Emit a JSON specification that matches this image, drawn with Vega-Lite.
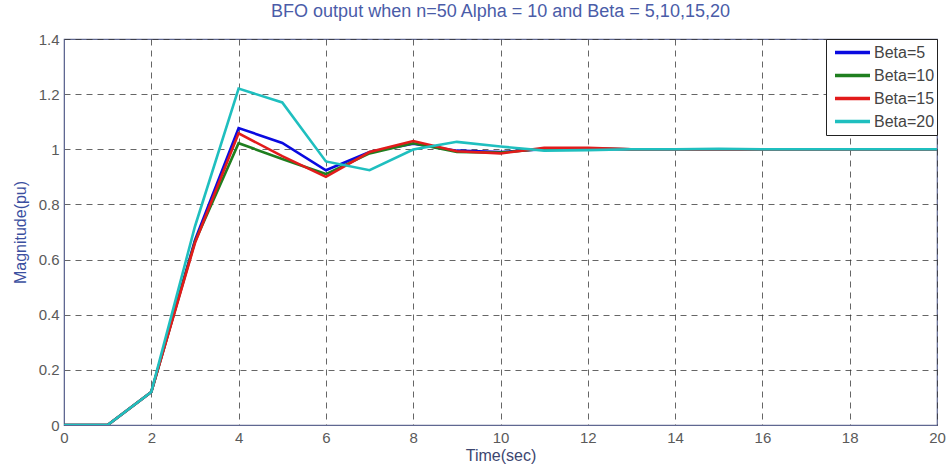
{
  "$schema": "https://vega.github.io/schema/vega-lite/v6.json",
  "width": 873,
  "height": 386,
  "autosize": "none",
  "padding": {"left": 64, "top": 39, "right": 13, "bottom": 43},
  "background": "white",
  "config": {
    "font": "Liberation Sans",
    "view": {"stroke": "#5f6791", "strokeWidth": 1.2}
  },
  "title": {
    "text": "BFO output when n=50 Alpha = 10 and Beta = 5,10,15,20",
    "fontSize": 18,
    "fontWeight": "normal",
    "color": "#4a5ca8",
    "offset": 11,
    "anchor": "middle"
  },
  "data": {
    "values": [
      {"t": 0, "beta": "Beta=5", "v": 0}, {"t": 1, "beta": "Beta=5", "v": 0}, {"t": 2, "beta": "Beta=5", "v": 0.12}, {"t": 3, "beta": "Beta=5", "v": 0.67}, {"t": 4, "beta": "Beta=5", "v": 1.077}, {"t": 5, "beta": "Beta=5", "v": 1.023}, {"t": 6, "beta": "Beta=5", "v": 0.924}, {"t": 7, "beta": "Beta=5", "v": 0.99}, {"t": 8, "beta": "Beta=5", "v": 1.02}, {"t": 9, "beta": "Beta=5", "v": 0.995}, {"t": 10, "beta": "Beta=5", "v": 0.99}, {"t": 11, "beta": "Beta=5", "v": 1.0}, {"t": 12, "beta": "Beta=5", "v": 1.002}, {"t": 13, "beta": "Beta=5", "v": 1.0}, {"t": 14, "beta": "Beta=5", "v": 1.0}, {"t": 15, "beta": "Beta=5", "v": 1.0}, {"t": 16, "beta": "Beta=5", "v": 1.0}, {"t": 17, "beta": "Beta=5", "v": 1.0}, {"t": 18, "beta": "Beta=5", "v": 1.0}, {"t": 19, "beta": "Beta=5", "v": 1.0}, {"t": 20, "beta": "Beta=5", "v": 1.0},
      {"t": 0, "beta": "Beta=10", "v": 0}, {"t": 1, "beta": "Beta=10", "v": 0}, {"t": 2, "beta": "Beta=10", "v": 0.12}, {"t": 3, "beta": "Beta=10", "v": 0.665}, {"t": 4, "beta": "Beta=10", "v": 1.022}, {"t": 5, "beta": "Beta=10", "v": 0.965}, {"t": 6, "beta": "Beta=10", "v": 0.91}, {"t": 7, "beta": "Beta=10", "v": 0.985}, {"t": 8, "beta": "Beta=10", "v": 1.022}, {"t": 9, "beta": "Beta=10", "v": 0.99}, {"t": 10, "beta": "Beta=10", "v": 0.988}, {"t": 11, "beta": "Beta=10", "v": 1.002}, {"t": 12, "beta": "Beta=10", "v": 1.003}, {"t": 13, "beta": "Beta=10", "v": 1.0}, {"t": 14, "beta": "Beta=10", "v": 1.0}, {"t": 15, "beta": "Beta=10", "v": 1.0}, {"t": 16, "beta": "Beta=10", "v": 1.0}, {"t": 17, "beta": "Beta=10", "v": 1.0}, {"t": 18, "beta": "Beta=10", "v": 1.0}, {"t": 19, "beta": "Beta=10", "v": 1.0}, {"t": 20, "beta": "Beta=10", "v": 1.0},
      {"t": 0, "beta": "Beta=15", "v": 0}, {"t": 1, "beta": "Beta=15", "v": 0}, {"t": 2, "beta": "Beta=15", "v": 0.12}, {"t": 3, "beta": "Beta=15", "v": 0.66}, {"t": 4, "beta": "Beta=15", "v": 1.058}, {"t": 5, "beta": "Beta=15", "v": 0.975}, {"t": 6, "beta": "Beta=15", "v": 0.9}, {"t": 7, "beta": "Beta=15", "v": 0.99}, {"t": 8, "beta": "Beta=15", "v": 1.03}, {"t": 9, "beta": "Beta=15", "v": 0.993}, {"t": 10, "beta": "Beta=15", "v": 0.985}, {"t": 11, "beta": "Beta=15", "v": 1.005}, {"t": 12, "beta": "Beta=15", "v": 1.005}, {"t": 13, "beta": "Beta=15", "v": 1.0}, {"t": 14, "beta": "Beta=15", "v": 1.0}, {"t": 15, "beta": "Beta=15", "v": 1.0}, {"t": 16, "beta": "Beta=15", "v": 1.0}, {"t": 17, "beta": "Beta=15", "v": 1.0}, {"t": 18, "beta": "Beta=15", "v": 1.0}, {"t": 19, "beta": "Beta=15", "v": 1.0}, {"t": 20, "beta": "Beta=15", "v": 1.0},
      {"t": 0, "beta": "Beta=20", "v": 0}, {"t": 1, "beta": "Beta=20", "v": 0}, {"t": 2, "beta": "Beta=20", "v": 0.12}, {"t": 3, "beta": "Beta=20", "v": 0.72}, {"t": 4, "beta": "Beta=20", "v": 1.22}, {"t": 5, "beta": "Beta=20", "v": 1.17}, {"t": 6, "beta": "Beta=20", "v": 0.956}, {"t": 7, "beta": "Beta=20", "v": 0.924}, {"t": 8, "beta": "Beta=20", "v": 0.999}, {"t": 9, "beta": "Beta=20", "v": 1.027}, {"t": 10, "beta": "Beta=20", "v": 1.01}, {"t": 11, "beta": "Beta=20", "v": 0.995}, {"t": 12, "beta": "Beta=20", "v": 0.997}, {"t": 13, "beta": "Beta=20", "v": 1.0}, {"t": 14, "beta": "Beta=20", "v": 1.0}, {"t": 15, "beta": "Beta=20", "v": 1.002}, {"t": 16, "beta": "Beta=20", "v": 1.0}, {"t": 17, "beta": "Beta=20", "v": 1.0}, {"t": 18, "beta": "Beta=20", "v": 1.0}, {"t": 19, "beta": "Beta=20", "v": 1.0}, {"t": 20, "beta": "Beta=20", "v": 1.0}
    ]
  },
  "mark": {"type": "line", "strokeWidth": 2.6, "clip": true},
  "encoding": {
    "x": {
      "field": "t",
      "type": "quantitative",
      "scale": {"domain": [0, 20], "nice": false, "zero": false},
      "axis": {
        "title": "Time(sec)",
        "titleFontSize": 16,
        "titleFontWeight": "normal",
        "titleColor": "#3c4670",
        "titlePadding": 2,
        "values": [0, 2, 4, 6, 8, 10, 12, 14, 16, 18, 20],
        "labelFontSize": 15,
        "labelColor": "#5a5a5a",
        "labelPadding": 5,
        "ticks": false,
        "domainColor": "#5f6791",
        "labelFlush": false,
        "grid": true,
        "gridColor": "#333333",
        "gridOpacity": 0.75,
        "gridDash": [6, 5]
      }
    },
    "y": {
      "field": "v",
      "type": "quantitative",
      "scale": {"domain": [0, 1.4], "nice": false},
      "axis": {
        "title": "Magnitude(pu)",
        "titleFontSize": 16,
        "titleFontWeight": "normal",
        "titleColor": "#3b4fa0",
        "titlePadding": 10,
        "values": [0, 0.2, 0.4, 0.6, 0.8, 1, 1.2, 1.4],
        "format": "~f",
        "labelFontSize": 15,
        "labelColor": "#5a5a5a",
        "labelPadding": 5,
        "ticks": false,
        "domainColor": "#5f6791",
        "labelFlush": false,
        "grid": true,
        "gridColor": "#333333",
        "gridOpacity": 0.75,
        "gridDash": [6, 5]
      }
    },
    "color": {
      "field": "beta",
      "type": "nominal",
      "sort": ["Beta=5", "Beta=10", "Beta=15", "Beta=20"],
      "scale": {
        "domain": ["Beta=5", "Beta=10", "Beta=15", "Beta=20"],
        "range": ["#0a0ae0", "#1f7f1f", "#e21b1b", "#1fbfbf"]
      },
      "legend": {
        "title": null,
        "orient": "top-right",
        "offset": 0,
        "padding": 2,
        "clipHeight": 23,
        "fillColor": "white",
        "strokeColor": "#222222",
        "symbolType": "stroke",
        "symbolSize": 1225,
        "symbolStrokeWidth": 3.5,
        "symbolOffset": 5,
        "labelFontSize": 16,
        "labelColor": "#444444",
        "labelOffset": 2,
        "rowPadding": 0,
        "cornerRadius": 0
      }
    }
  }
}
